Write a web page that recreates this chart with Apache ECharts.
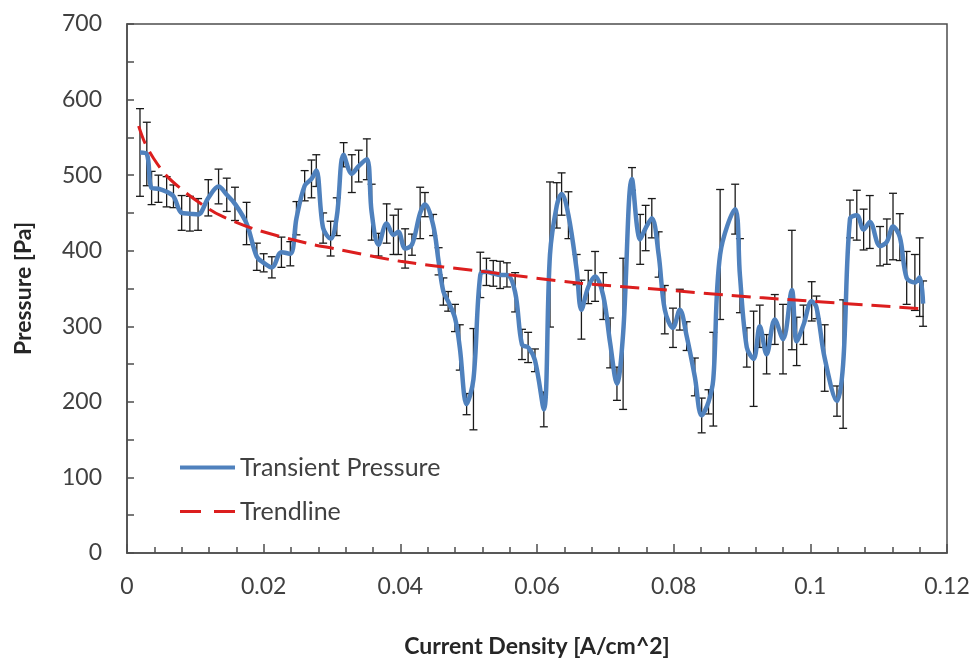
<!DOCTYPE html>
<html><head><meta charset="utf-8">
<script src="https://cdn.jsdelivr.net/npm/echarts@6/dist/echarts.min.js"></script>
<style>html,body{margin:0;padding:0;background:#fff}#c{width:974px;height:663px}</style>
</head><body><div id="c"></div>
<script>
const currentDensity = [
0.0019,0.0029,0.0036,0.0046,0.0058,0.0068,0.0080,0.0092,0.0104,0.0119,
0.0134,0.0146,0.0158,0.0175,0.0190,0.0200,0.0212,0.0226,0.0239,0.0248,
0.0260,0.0270,0.0277,0.0287,0.0298,0.0307,0.0317,0.0329,0.0339,0.0351,
0.0358,0.0368,0.0380,0.0390,0.0397,0.0407,0.0417,0.0429,0.0436,0.0448,
0.0456,0.0463,0.0470,0.0480,0.0487,0.0497,0.0507,0.0517,0.0526,0.0536,
0.0546,0.0556,0.0568,0.0578,0.0587,0.0597,0.0610,0.0619,0.0629,0.0636,
0.0646,0.0658,0.0665,0.0675,0.0685,0.0697,0.0707,0.0717,0.0726,0.0739,
0.0751,0.0759,0.0768,0.0778,0.0787,0.0799,0.0809,0.0819,0.0831,0.0841,0.0851,
0.0858,0.0868,0.0890,0.0897,0.0907,0.0917,0.0926,0.0936,0.0948,
0.0960,0.0973,0.0980,0.0990,0.1002,0.1009,0.1021,0.1039,0.1048,0.1058,
0.1068,0.1078,0.1087,0.1102,0.1112,0.1121,0.1131,0.1141,0.1153,0.1160,0.1165];
const pressure = [
530,528,483,482,478,472,450,449,448,470,
485,474,462,436,392,384,378,398,396,443,
486,495,506,430,416,445,527,502,512,521,
451,408,436,421,425,403,408,450,461,434,
386,346,333,311,272,197,230,368,372,370,
368,368,345,276,272,255,190,395,460,475,
447,375,322,352,366,340,278,224,290,495,
415,430,443,395,322,298,322,287,233,182,200,
230,395,455,367,272,257,300,263,309,
283,348,280,302,333,325,258,201,250,442,
447,428,438,406,412,432,418,364,358,365,330];
const pressureError = [
58,42,22,18,20,15,23,23,21,24,
23,22,22,28,18,12,14,20,16,22,
20,25,21,20,23,25,16,25,21,27,
37,15,26,26,30,26,14,34,16,14,
18,18,13,18,30,14,67,30,18,17,
18,16,26,20,20,15,23,96,30,28,
31,20,39,22,33,31,33,22,100,15,
33,30,26,30,32,26,27,19,25,23,16,
62,86,33,49,26,63,28,26,33,
46,79,32,26,26,15,44,20,85,25,
33,27,35,26,30,44,31,35,37,52,30];
const trendDensity = [0.0017,0.0026,0.0039,0.0058,0.0087,0.0112,0.0136,0.0185,0.0263,0.0302,0.0400,0.0526,0.0663,0.0761,0.0926,0.1151,0.1165];
const trendPressure = [565,543,522,499,476,460,447,429,410,403,386,372,357,350,338,324,323];

const lineData = currentDensity.map((x,i)=>[x,pressure[i]]);
const errData = currentDensity.map((x,i)=>[x,pressure[i]-pressureError[i],pressure[i]+pressureError[i]]);
const trendData = trendDensity.map((x,i)=>[x,trendPressure[i]]);

const BLUE = '#4F81BD', RED = '#DC1E1E';
const chart = echarts.init(document.getElementById('c'));
const FONT = 'Lato';
chart.setOption({
  animation:false,
  backgroundColor:'#fff',
  grid:{left:127,right:27,top:24,bottom:106,show:true,borderColor:'#4d4d4d',borderWidth:1.5,backgroundColor:'transparent'},
  legend:{
    orient:'vertical',left:175,top:450,itemWidth:55,itemHeight:4,itemGap:19,
    data:[
      {name:'Transient Pressure',icon:'path://M0,0H55V4H0Z',itemStyle:{color:BLUE}},
      {name:'Trendline',icon:'path://M0,0H21V3H0Z M34,0H55V3H34Z',itemStyle:{color:RED}}
    ],
    textStyle:{fontFamily:FONT,fontSize:25,color:'#404040'}
  },
  xAxis:{
    type:'value',min:0,max:0.12,interval:0.02,
    name:'Current Density [A/cm^2]',nameLocation:'middle',nameGap:82,
    nameTextStyle:{fontFamily:FONT,fontSize:23,fontWeight:'bold',color:'#262626'},
    axisLine:{show:true,lineStyle:{color:'#4d4d4d',width:1.5}},
    axisTick:{show:true,inside:true,length:9,lineStyle:{color:'#4d4d4d',width:1.5}},
    minorTick:{show:true,splitNumber:5,length:6,lineStyle:{color:'#4d4d4d',width:1.5}},
    splitLine:{show:false},
    axisLabel:{fontFamily:FONT,fontSize:23,color:'#404040',margin:22,formatter:v=>String(+v.toFixed(2))}
  },
  yAxis:{
    type:'value',min:0,max:700,interval:100,
    name:'Pressure [Pa]',nameLocation:'middle',nameGap:92,
    nameTextStyle:{fontFamily:FONT,fontSize:23,fontWeight:'bold',color:'#262626'},
    axisLine:{show:true,lineStyle:{color:'#4d4d4d',width:1.5}},
    axisTick:{show:true,inside:true,length:7,lineStyle:{color:'#4d4d4d',width:1.5}},
    minorTick:{show:true,splitNumber:2,length:7,lineStyle:{color:'#4d4d4d',width:1.5}},
    splitLine:{show:false},
    axisLabel:{fontFamily:FONT,fontSize:23,color:'#404040',margin:25}
  },
  series:[
    {
      name:'error',type:'custom',z:1,
      data:errData,encode:{x:0,y:[1,2]},
      renderItem:function(params,api){
        const x=api.value(0);
        const lo=api.coord([x,api.value(1)]);
        const hi=api.coord([x,api.value(2)]);
        const w=4;
        const st={stroke:'#1a1a1a',lineWidth:1.3};
        return {type:'group',children:[
          {type:'line',shape:{x1:lo[0],y1:lo[1],x2:hi[0],y2:hi[1]},style:st},
          {type:'line',shape:{x1:lo[0]-w,y1:lo[1],x2:lo[0]+w,y2:lo[1]},style:st},
          {type:'line',shape:{x1:hi[0]-w,y1:hi[1],x2:hi[0]+w,y2:hi[1]},style:st}
        ]};
      }
    },
    {
      name:'Transient Pressure',type:'line',z:2,data:lineData,smooth:0.35,
      symbol:'none',showSymbol:false,
      lineStyle:{color:BLUE,width:4.5},itemStyle:{color:BLUE}
    },
    {
      name:'Trendline',type:'line',z:3,data:trendData,smooth:0.3,
      symbol:'none',showSymbol:false,
      lineStyle:{color:RED,width:3,type:[19,9]},itemStyle:{color:RED}
    }
  ]
});
</script>
</body></html>
